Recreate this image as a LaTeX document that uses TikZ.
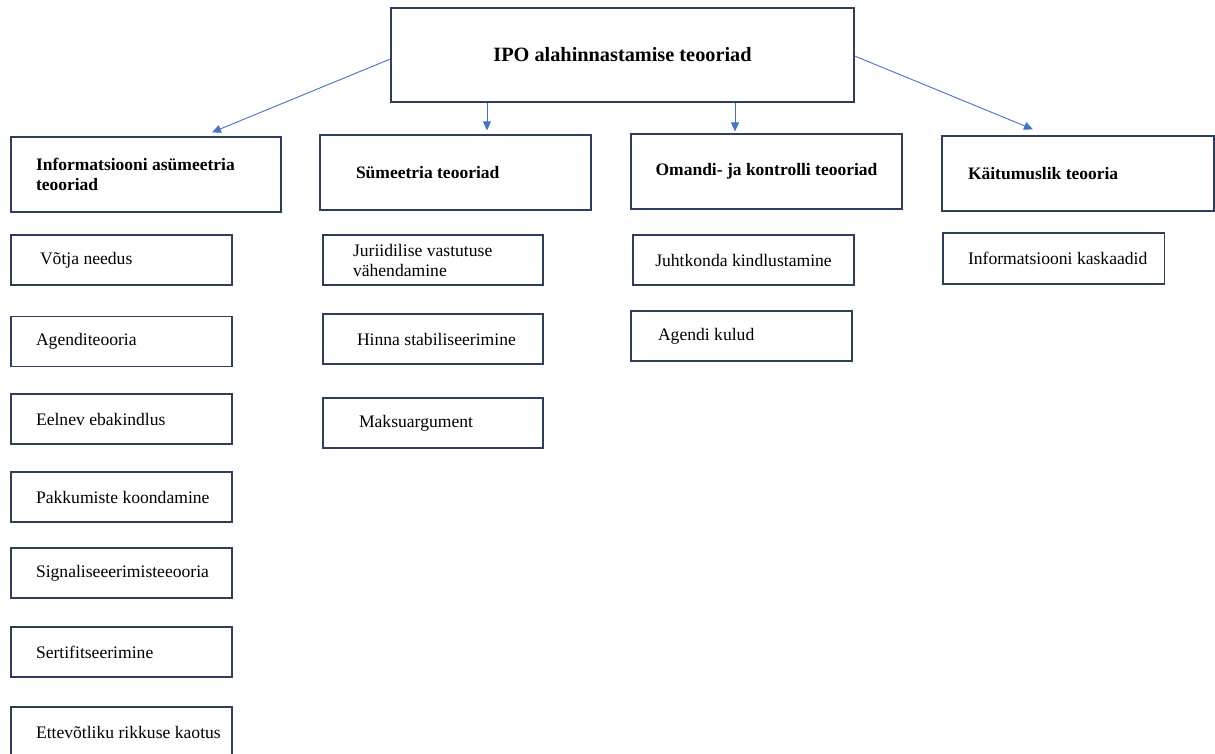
\documentclass[tikz,border=0pt]{standalone}
\usepackage{fontspec}
\setmainfont{Liberation Serif}
\usetikzlibrary{arrows.meta,calc}
\definecolor{boxline}{RGB}{47,62,92}
\definecolor{arrowblue}{RGB}{68,114,196}
\newcommand{\lbx}[2]{\makebox[#1][l]{#2}}
\begin{document}
\begin{tikzpicture}[x=1pt,y=-1pt,
  box/.style={draw=boxline, line width=1.3pt, inner ysep=0pt, minimum height=50pt,
    font=\fontsize{17.6}{20}\selectfont},
  headbox/.style={box, minimum height=75pt, font=\fontsize{17.5}{20}\selectfont\bfseries},
  conn/.style={draw=arrowblue, line width=0.9pt, -{Triangle[length=9pt,width=8pt]}}]
\useasboundingbox (0,0) rectangle (1215,753);
\clip (0,0) rectangle (1215,753);
% title
\node[box, minimum width=463pt, minimum height=94pt,
  font=\fontsize{20.3}{24}\selectfont\bfseries] (top) at (622.5,55) {IPO alahinnastamise teooriad};
% level 1
\node[headbox, inner xsep=25pt] (b1) at (146,174.5)
  {\parbox{220pt}{\raggedright Informatsiooni asümeetria\\teooriad}};
\node[headbox, inner xsep=36pt] (b2) at (455.5,172.5) {\lbx{199pt}{Sümeetria teooriad}};
\node[headbox, minimum width=271pt] (b3) at (766.5,171.5) {Omandi- ja kontrolli teooriad};
\node[headbox, inner xsep=26pt] (b4) at (1078,173.5) {\lbx{220pt}{Käitumuslik teooria}};
% column 1
\node[box, inner xsep=29pt] (c1a) at (121.5,260) {\lbx{163pt}{Võtja needus}};
\node[box, inner xsep=25pt] (c1b) at (121.5,341.5) {\lbx{171pt}{Agenditeooria}};
\node[box, inner xsep=25pt] (c1c) at (121.5,419) {\lbx{171pt}{Eelnev ebakindlus}};
\node[box, inner xsep=25pt] (c1d) at (121.5,497) {\lbx{171pt}{Pakkumiste koondamine}};
\node[box, inner xsep=25pt] (c1e) at (121.5,573) {\lbx{171pt}{Signaliseeerimisteeooria}};
\node[box, inner xsep=25pt] (c1f) at (121.5,652) {\lbx{171pt}{Sertifitseerimine}};
\node[box, inner xsep=25pt] (c1g) at (121.5,732) {\lbx{171pt}{Ettevõtliku rikkuse kaotus}};
% column 2
\node[box, inner xsep=30pt] (c2a) at (433,260)
  {\parbox{160pt}{\raggedright Juriidilise vastutuse\\vähendamine}};
\node[box, inner xsep=34pt] (c2b) at (433,339) {\lbx{152pt}{Hinna stabiliseerimine}};
\node[box, inner xsep=36pt] (c2c) at (433,423) {\lbx{148pt}{Maksuargument}};
% column 3
\node[box, minimum width=221pt] (c3a) at (743.5,260) {Juhtkonda kindlustamine};
\node[box, inner xsep=27pt] (c3b) at (741.5,336) {\lbx{167pt}{Agendi kulud}};
% column 4
\node[box, inner xsep=25pt, minimum height=51pt] (c4a) at (1053.75,258.5) {\lbx{171.5pt}{Informatsiooni kaskaadid}};
% connectors
\draw[conn] ($(top.west)+(0,4)$) -- ($(b1.north)+(66,-4)$);
\draw[conn] ($(top.south)+(-135.5,0)$) -- ($(b2.north)+(31.5,-4)$);
\draw[conn] ($(top.south)+(112.5,0)$) -- ($(b3.north)+(-31.5,-2)$);
\draw[conn] ($(top.east)+(0,1)$) -- ($(b4.north)+(-45,-6)$);
\end{tikzpicture}
\end{document}
